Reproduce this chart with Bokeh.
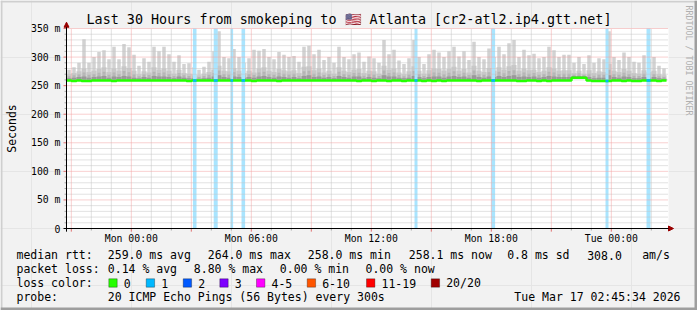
import math
from bokeh.plotting import figure
from bokeh.models import Range1d, Label, BoxAnnotation, Arrow, NormalHead
from bokeh.core.properties import value
from bokeh.embed import file_html
from bokeh.resources import INLINE

# ---------------- data ----------------
START_H = -3.2406          # Sun 20:45:34, hours relative to Mon 00:00
STEP_H = 0.25              # 15-minute bins

smoke_max = [
    278, 282, 290, 331, 290, 300, 309, 312, 296, 318,
    296, 323, 317, 304, 285, 298, 292, 318, 310, 318,
    305, 292, 303, 288, 289, 282, 278, 283, 292, 310,
    345, 300, 298, 314, 300, 290, 298, 313, 311, 314,
    300, 296, 309, 304, 300, 302, 292, 318, 320, 305,
    313, 295, 300, 290, 318, 300, 296, 305, 308, 292,
    301, 298, 290, 330, 305, 313, 294, 288, 298, 330,
    300, 288, 305, 313, 308, 300, 310, 318, 301, 310,
    295, 327, 300, 296, 315, 300, 318, 305, 324, 330,
    300, 313, 303, 306, 298, 300, 318, 312, 300, 304,
    304, 290, 300, 288, 303, 290, 298, 296, 345, 300,
    295, 308, 300, 292, 290, 303, 296, 300, 285, 280,
]
smoke_mid = [
    270, 272, 275, 280, 274, 276, 279, 282, 274, 280,
    276, 284, 281, 276, 270, 275, 273, 282, 278, 280,
    276, 271, 278, 272, 271, 270, 268, 271, 274, 278,
    285, 276, 275, 281, 276, 272, 276, 273, 280, 282,
    276, 274, 279, 277, 275, 277, 272, 283, 284, 277,
    280, 273, 276, 271, 282, 276, 274, 278, 279, 272,
    276, 275, 271, 285, 278, 280, 273, 270, 275, 284,
    276, 271, 277, 280, 279, 276, 279, 283, 276, 279,
    273, 285, 276, 274, 281, 276, 282, 278, 284, 286,
    276, 280, 277, 278, 274, 276, 282, 280, 276, 277,
    277, 272, 276, 271, 277, 272, 275, 274, 288, 276,
    274, 279, 276, 272, 271, 277, 274, 276, 270, 268,
]
smoke_low = [
    263, 264, 265, 266, 264, 265, 266, 267, 264, 266,
    265, 267, 266, 264, 263, 265, 264, 267, 266, 266,
    265, 263, 266, 264, 263, 263, 262, 263, 264, 266,
    268, 265, 264, 266, 265, 264, 265, 264, 266, 267,
    265, 264, 266, 265, 264, 265, 263, 267, 268, 265,
    266, 264, 265, 263, 267, 265, 264, 266, 266, 263,
    265, 264, 263, 268, 266, 266, 264, 263, 264, 267,
    265, 263, 265, 266, 266, 264, 266, 267, 265, 266,
    264, 268, 265, 264, 266, 265, 267, 265, 267, 268,
    265, 266, 265, 266, 264, 265, 267, 266, 265, 265,
    265, 267, 267, 267, 265, 263, 264, 264, 268, 265,
    264, 266, 265, 263, 263, 265, 264, 265, 263, 262,
]
median_rtt = [
    259.0, 258.0, 259.0, 258.0, 258.0, 259.0, 259.0, 259.0, 259.0, 258.0,
    259.0, 259.0, 259.0, 259.0, 259.0, 259.0, 259.0, 259.0, 259.0, 259.0,
    259.0, 259.0, 259.0, 259.0, 258.0, 259.0, 259.0, 259.0, 259.0, 259.0,
    259.0, 259.0, 259.0, 259.0, 259.0, 259.0, 259.0, 258.0, 259.0, 259.0,
    259.0, 259.0, 258.0, 259.0, 259.0, 259.0, 259.0, 259.0, 259.0, 259.0,
    259.0, 259.0, 259.0, 259.0, 259.0, 259.0, 259.0, 259.0, 258.0, 259.0,
    259.0, 258.0, 259.0, 259.0, 258.0, 259.0, 259.0, 258.0, 259.0, 259.0,
    259.0, 258.0, 259.0, 258.0, 259.0, 258.0, 259.0, 259.0, 259.0, 259.0,
    259.0, 259.0, 258.0, 259.0, 259.0, 259.0, 259.0, 259.0, 259.0, 259.0,
    258.0, 258.0, 259.0, 259.0, 258.0, 259.0, 258.0, 259.0, 259.0, 259.0,
    259.0, 263.6, 263.6, 263.6, 259.0, 258.2, 258.2, 258.2, 258.2, 259.0,
    259.0, 258.0, 259.0, 258.0, 258.0, 259.0, 259.0, 259.0, 258.0, 259.0,
]
loss_start = [3.08, 4.12, 4.96, 5.51, 14.16, 18.00, 23.71, 25.76]
loss_end = [3.26, 4.32, 5.09, 5.69, 14.31, 18.19, 23.86, 25.96]

x_tick_values = [0, 6, 12, 18, 24]
x_tick_labels = ["Mon 00:00", "Mon 06:00", "Mon 12:00", "Mon 18:00", "Tue 00:00"]
y_tick_values = [0, 50, 100, 150, 200, 250, 300, 350]
y_tick_labels = ["0", "50 m", "100 m", "150 m", "200 m", "250 m", "300 m", "350 m"]

title_text = "Last 30 Hours from smokeping to \U0001F1FA\U0001F1F8 Atlanta [cr2-atl2.ip4.gtt.net]"
rtt_stats = ["259.0 ms avg", "264.0 ms max", "258.0 ms min", "258.1 ms now", "0.8 ms sd", "308.0", "am/s"]
loss_stats = ["0.14 % avg", "8.80 % max", "0.00 % min", "0.00 % now"]
loss_labels = ["0", "1", "2", "3", "4-5", "6-10", "11-19", "20/20"]
loss_colors = ["#26ff00", "#00b8ff", "#0059ff", "#7e00ff", "#ff00ff", "#ff5500", "#ff0000", "#a00000"]
probe_text = "20 ICMP Echo Pings (56 Bytes) every 300s"
stamp_text = "Tue Mar 17 02:45:34 2026"

# ---------------- layout / style ----------------
W, H = 697, 310
BG = "#F2F2F2"
MONO = "DejaVu Sans Mono"
# plot area 600 px wide (20 px per hour) from px 66; 200 px tall for 350 ms ending at px 228
p = figure(width=W, height=H, output_backend="svg", toolbar_location=None,
           x_range=Range1d(START_H - 3.3, START_H + 31.55),
           y_range=Range1d(-143.5, 399.0),
           x_axis_location=None, y_axis_location=None,
           min_border_left=0, min_border_right=0, min_border_top=0, min_border_bottom=0)
p.background_fill_color = BG
p.border_fill_color = BG
p.outline_line_color = None

X_END = START_H + 30.1

# white canvas of the plot area
p.add_layout(BoxAnnotation(left=START_H, right=X_END, bottom=0, top=350,
                           fill_color="white", fill_alpha=1.0, line_color=None,
                           level="underlay"))

n = len(smoke_max)
lefts = [START_H + i * STEP_H for i in range(n)]
rights = [l + STEP_H for l in lefts]
centers = [l + STEP_H / 2 for l in lefts]

# smoke
p.vbar(x=centers, width=STEP_H * 0.7, bottom=median_rtt, top=smoke_max,
       fill_color="#d2d2d2", line_color=None)
p.quad(left=lefts, right=rights, bottom=median_rtt, top=smoke_mid,
       fill_color="#c8c8c8", line_color=None)
p.vbar(x=centers, width=STEP_H * 0.6, bottom=median_rtt,
       top=[(a + b) / 2 for a, b in zip(smoke_low, smoke_mid)],
       fill_color="#b4b4b4", line_color=None)
p.quad(left=lefts, right=rights, bottom=median_rtt, top=smoke_low,
       fill_color="#999999", line_color=None)

# loss bands
p.quad(left=loss_start, right=loss_end, bottom=0, top=350,
       fill_color="#a9e5ff", line_color=None)

# grid
hours = list(range(-3, 27))
x_minor = [h for h in hours if h % 3 != 0]
x_major = [h for h in hours if h % 3 == 0]
y_minor = [v for v in range(10, 351, 10) if v % 50 != 0]
y_major = [v for v in y_tick_values if v > 0]
GRID_MINOR = "#c4c4c4"
GRID_MAJOR = "#f2a0a0"
p.segment(x0=x_minor, y0=[0] * len(x_minor), x1=x_minor, y1=[350] * len(x_minor),
          line_color=GRID_MINOR, line_width=1, line_dash="1 1")
p.segment(x0=[START_H] * len(y_minor), y0=y_minor, x1=[X_END] * len(y_minor), y1=y_minor,
          line_color=GRID_MINOR, line_width=1, line_dash="1 1")
p.segment(x0=x_major, y0=[0] * len(x_major), x1=x_major, y1=[350] * len(x_major),
          line_color=GRID_MAJOR, line_width=1, line_dash="1 1")
p.segment(x0=[START_H] * len(y_major), y0=y_major, x1=[X_END] * len(y_major), y1=y_major,
          line_color=GRID_MAJOR, line_width=1, line_dash="1 1")

# ticks outside the axes
p.segment(x0=x_minor, y0=[0] * len(x_minor), x1=x_minor, y1=[-3.5] * len(x_minor),
          line_color="#a8a8a8", line_width=1)
p.segment(x0=x_major, y0=[0] * len(x_major), x1=x_major, y1=[-5.5] * len(x_major),
          line_color="#e07070", line_width=1)
p.segment(x0=[START_H - 0.1] * len(y_minor), y0=y_minor, x1=[START_H] * len(y_minor), y1=y_minor,
          line_color="#a8a8a8", line_width=1)
p.segment(x0=[START_H - 0.15] * len(y_major), y0=y_major, x1=[START_H] * len(y_major), y1=y_major,
          line_color="#e07070", line_width=1)

# median line
edges = lefts + [rights[-1]]
p.step(x=edges, y=median_rtt + [median_rtt[-1]], mode="after",
       line_color="#26ff00", line_width=2.5)
med_at_loss = [median_rtt[min(n - 1, int((s - START_H) / STEP_H))] for s in loss_start]
p.segment(x0=loss_start, y0=med_at_loss, x1=loss_end, y1=med_at_loss,
          line_color="#00b8ff", line_width=2.5)

# axes lines and arrows
AR = "#990000"
p.segment(x0=[START_H - 0.15, START_H], y0=[0, -5.5], x1=[START_H + 30.2, START_H], y1=[0, 356],
          line_color="black", line_width=1)
p.add_layout(Arrow(end=NormalHead(size=5, fill_color=AR, line_color=AR),
                   x_start=START_H, y_start=340, x_end=START_H, y_end=361,
                   line_color="black", line_width=1))
p.add_layout(Arrow(end=NormalHead(size=5, fill_color=AR, line_color=AR),
                   x_start=START_H + 29.9, y_start=0, x_end=START_H + 30.35, y_end=0,
                   line_color="black", line_width=1))

# tick labels
p.text(x=[START_H] * len(y_tick_values), y=y_tick_values, text=y_tick_labels,
       x_offset=-6, text_align="right", text_baseline="middle",
       text_font=value(MONO), text_font_size=value("9.8px"), text_color="black")
p.text(x=x_tick_values, y=[0] * len(x_tick_values), text=x_tick_labels,
       y_offset=9.7, text_align="center", text_baseline="middle",
       text_font=value(MONO), text_font_size=value("9.8px"), text_color="black")


def text(t, x, y, size, align="left", angle=0.0, color="black"):
    p.add_layout(Label(x=x, y=H - y, x_units="screen", y_units="screen", text=t,
                       text_font=MONO, text_font_size=f"{size}px", text_align=align,
                       text_baseline="middle", angle=angle, text_color=color))


def box(l, t, w, h, color, line=None):
    p.add_layout(BoxAnnotation(left=l, right=l + w, top=H - t, bottom=H - t - h,
                               left_units="screen", right_units="screen",
                               top_units="screen", bottom_units="screen",
                               fill_color=color, fill_alpha=1.0,
                               line_color=line, line_width=1, level="overlay"))


# canvas shading border
box(0, 0, W, 2, "#CFCFCF")
box(0, 0, 2, H, "#CFCFCF")
box(W - 3, 0, 3, H, "#9E9E9E")
box(0, H - 3, W, 3, "#9E9E9E")

# title / side texts
text(title_text, 348.5, 19, 13.4, align="center")
text("Seconds", 11, 128, 11.5, align="center", angle=math.pi / 2)
text("RRDTOOL / TOBI OETIKER", 688, 60, 8.3, align="center", angle=-math.pi / 2, color="#b0b0b0")

# legend
LS = 11.5
rows = [254.5, 268.5, 282.5, 296.5]
text("median rtt:", 16, rows[0], LS)
for t, x in zip(rtt_stats, [107.3, 207.3, 307.3, 408.3, 506.7, 586.7, 641.7]):
    text(t, x, rows[0], LS)
text("packet loss:", 16, rows[1], LS)
for t, x in zip(loss_stats, [107.3, 193.3, 279.3, 365.0]):
    text(t, x, rows[1], LS)
text("loss color:", 16, rows[2], LS)
for lab, col, bx in zip(loss_labels, loss_colors, [108.3, 145.7, 182.7, 219.3, 256.0, 306.7, 366.0, 430.7]):
    box(bx, rows[2] - 4.2, 8.4, 8.4, col, line="black")
    text(lab, bx + 15, rows[2], LS)
text("probe:", 16, rows[3], LS)
text(probe_text, 107.3, rows[3], LS)
text(stamp_text, 680, rows[3], LS, align="right")

open("out.html", "w").write(file_html(p, INLINE))
